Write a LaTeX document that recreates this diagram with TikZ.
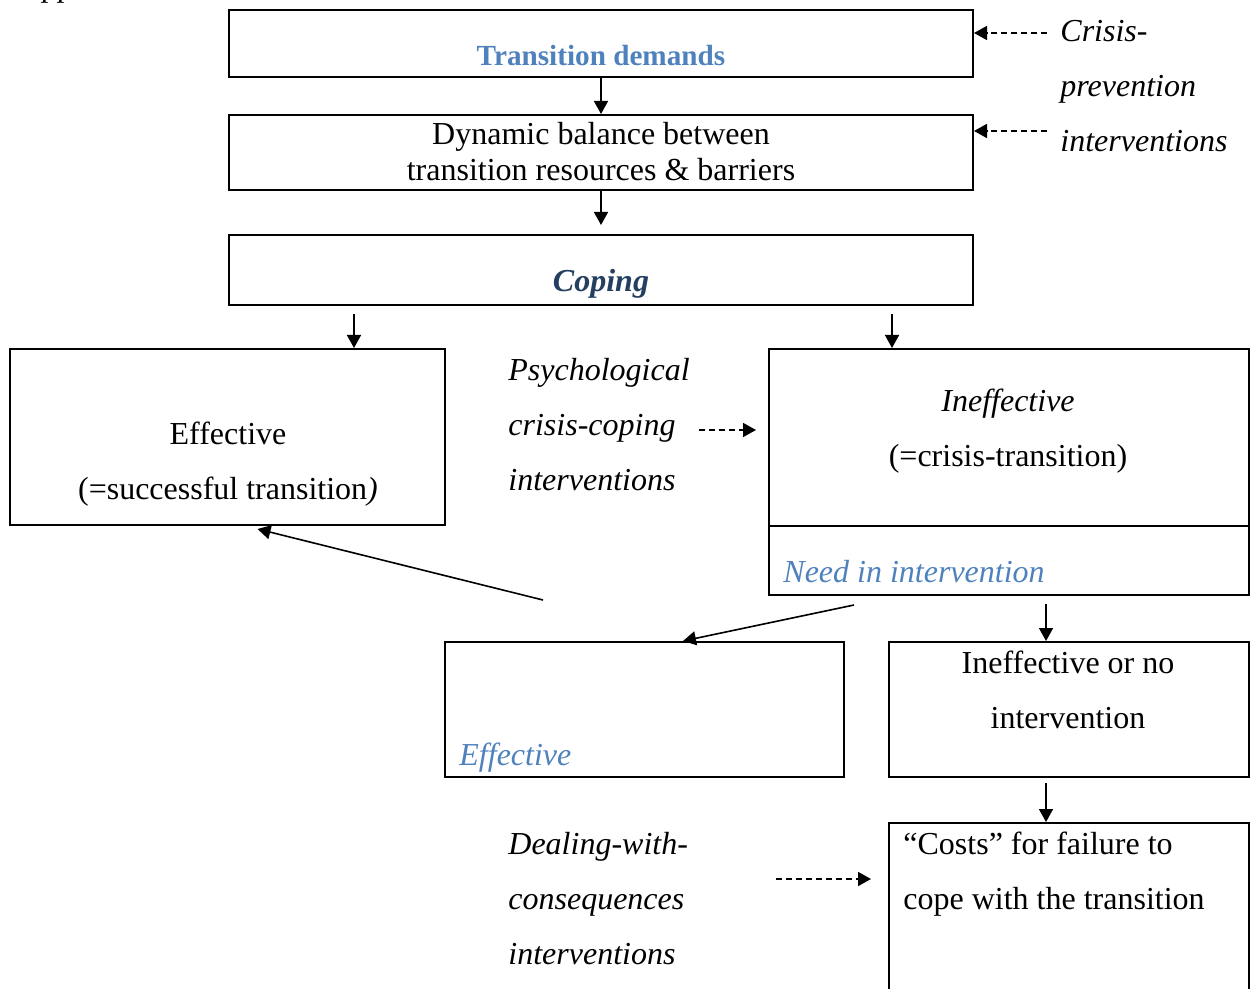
\documentclass[tikz,border=0pt]{standalone}
\usepackage{fontspec}
\setmainfont{Liberation Serif}
\usetikzlibrary{arrows.meta,calc}

\definecolor{headblue}{HTML}{4F81BD}
\definecolor{copeblue}{HTML}{243F60}

\begin{document}
\begin{tikzpicture}[x=0.5pt, y=-0.5pt,
    font=\fontsize{16}{27.5}\selectfont,
    box/.style={draw, line width=1pt, inner sep=0pt},
    txt/.style={inner sep=0pt, anchor=base, align=center},
    ltxt/.style={inner sep=0pt, anchor=base west, align=left},
    arr/.style={-{Triangle[length=6.5pt,width=7pt]}, line width=0.8pt},
    darr/.style={arr, dash pattern=on 3pt off 2pt}]
  \useasboundingbox (0,0) rectangle (1251,989);

  % Boxes
  \node[box, minimum width=372pt, minimum height=33.5pt] (td) at (601,43.5) {};
  \node[box, minimum width=372pt, minimum height=37.5pt] (bal) at (601,152.5) {};
  \node[box, minimum width=372pt, minimum height=35pt] (cop) at (601,270) {};
  \node[box, minimum width=217.5pt, minimum height=88pt] (eff) at (227.5,437) {};
  \node[box, minimum width=240pt, minimum height=123pt] (ineff) at (1009,472) {};
  \node[box, minimum width=199.5pt, minimum height=67.5pt] (effint) at (644.5,709.5) {};
  \node[box, minimum width=180pt, minimum height=67.5pt] (noint) at (1069,709.5) {};
  \node[box, minimum width=180pt, minimum height=88.5pt] (cost) at (1069,911.5) {};
  \draw[line width=1pt] ([yshift=35pt]ineff.south west) -- ([yshift=35pt]ineff.south east);

  % Texts (base = last line)
  \node[ltxt, font=\fontsize{16}{18}\selectfont\itshape] (app) at (23,-3) {Appendix 1};
  \node[txt, font=\fontsize{14.6}{18}\selectfont\bfseries, text=headblue] (tdtext) at (601,66) {Transition demands};
  \node[txt, font=\fontsize{16}{18}\selectfont] (baltext) at (601,181) {Dynamic balance between\\transition resources \& barriers};
  \node[txt, font=\fontsize{16}{18}\selectfont\bfseries\itshape, text=copeblue] (coptext) at (601,292) {Coping};
  \node[txt] (efftext) at (228,499) {Effective\\(=successful transition\textit{)}};
  \node[txt] (inefftext) at (1008,466) {\textit{Ineffective}\\(=crisis-transition)};
  \node[ltxt, font=\fontsize{16}{18}\selectfont\itshape, text=headblue] (need) at (783,582) {Need in intervention};
  \node[ltxt, font=\fontsize{16}{18}\selectfont\itshape, text=headblue] (effinttext) at (459,765) {Effective};
  \node[txt] (nointtext) at (1068,728) {Ineffective or no\\intervention};
  \node[ltxt] (costtext) at (903,909) {``Costs'' for failure to\\cope with the transition};
  \node[ltxt, font=\fontsize{16}{27.5}\selectfont\itshape] (crisis) at (1060,152) {Crisis-\\prevention\\interventions};
  \node[ltxt, font=\fontsize{16}{27.5}\selectfont\itshape] (psy) at (508,490) {Psychological\\crisis-coping\\interventions};
  \node[ltxt, font=\fontsize{16}{27.5}\selectfont\itshape] (deal) at (508,964) {Dealing-with-\\consequences\\interventions};

  % Arrows
  \coordinate (cl) at (354,0);
  \coordinate (cr) at (892,0);
  \coordinate (vx) at (1046,0);
  \draw[arr] (td.south) -- (bal.north);
  \draw[arr, shorten >=4.5pt] (bal.south) -- (cop.north);
  \draw[arr, shorten <=4pt] (cop.south -| cl) -- (eff.north -| cl);
  \draw[arr, shorten <=4pt] (cop.south -| cr) -- (ineff.north -| cr);
  \draw[arr, shorten <=4pt] (ineff.south -| vx) -- (noint.north -| vx);
  \draw[arr, shorten <=2.5pt] (noint.south -| vx) -- (cost.north -| vx);
  \coordinate (d1) at (543,600);
  \draw[arr] (d1) -- ($(eff.south)+(30,3)$);
  \draw[arr] ($(ineff.south west)+(86,9)$) -- ($(effint.north)+(38.5,0)$);

  % Dashed arrows
  \coordinate (cp1) at (1047,33);
  \coordinate (cp2) at (1047,131);
  \coordinate (pk) at (699,430);
  \coordinate (dk) at (776,879);
  \draw[darr] (cp1) -- (cp1 -| td.east);
  \draw[darr] (cp2) -- (cp2 -| bal.east);
  \draw[darr, shorten >=6pt] (pk) -- (pk -| ineff.west);
  \draw[darr, shorten >=8.5pt] (dk) -- (dk -| cost.west);
\end{tikzpicture}
\end{document}
